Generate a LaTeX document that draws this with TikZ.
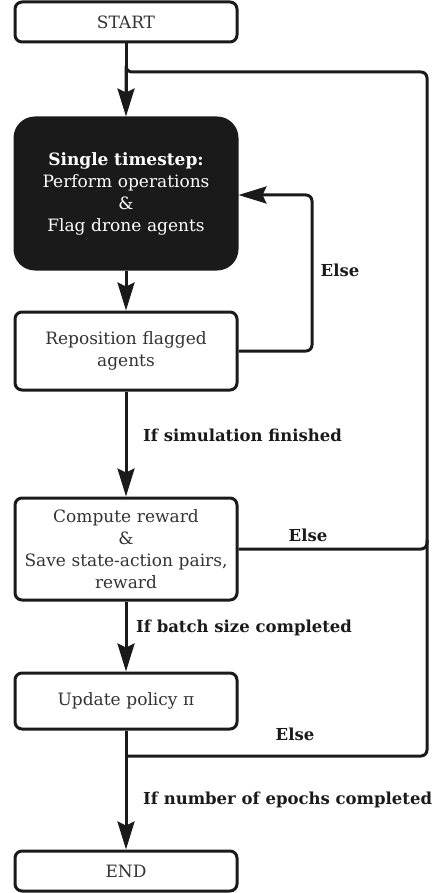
\documentclass[tikz,border=0pt]{standalone}
\usepackage{fontspec}
\setmainfont{DejaVu Serif}
\usetikzlibrary{arrows.meta}
\definecolor{boxtext}{HTML}{333333}
\definecolor{ink}{HTML}{1A1A1A}
\begin{document}
\begin{tikzpicture}[x=1pt,y=-1pt,
  box/.style={draw=ink, line width=3pt, rounded corners=7pt, fill=white,
    minimum width=222pt, text width=215pt, align=center, inner sep=0pt,
    text=boxtext, font=\fontsize{17}{22}\selectfont},
  darkbox/.style={box, fill=ink, rounded corners=20pt, text=white},
  flow/.style={draw=ink, line width=3pt, rounded corners=6pt},
  tip/.style={-{Stealth[length=28pt,width=17pt,inset=4pt]}},
  lbl/.style={text=ink, font=\bfseries\fontsize{16.5}{20}\selectfont, inner sep=0pt}]
\useasboundingbox (0,0) rectangle (442,893);

\node[box, minimum height=40pt] (start) at (126,22) {START};
\node[darkbox, minimum height=151pt] (step) at (126,193.5)
  {\textbf{Single timestep:}\\Perform operations\\\&\\Flag drone agents};
\node[box, minimum height=78pt] (repos) at (126,351)
  {Reposition flagged\\agents};
\node[box, minimum height=102pt] (reward) at (126,549)
  {Compute reward\\\&\\Save state-action pairs,\\reward};
\node[box, minimum height=56pt] (update) at (126,701) {Update policy π};
\node[box, minimum height=40pt] (end) at (126,871) {END};

\coordinate (top) at (126,72);
\coordinate (rc) at (427,72);
\coordinate (rb) at (427,756);
\coordinate (lb) at (126,756);
\coordinate (inner) at (312,195);

% main downward flow
\draw[flow, tip] (start.south) -- (step.north);
\draw[flow, tip] (step.south) -- (repos.north);
\draw[flow, tip] (repos.south) -- (reward.north);
\draw[flow, tip] (reward.south) -- (update.north);
\draw[flow, tip] (update.south) -- (end.north);

% inner loop: next timestep
\draw[flow, tip] (repos.east) -| (inner) -- (step.east |- inner);

% outer loops back to the timestep
\draw[flow] (reward.east) -| (rc) -| (top) -- (126,100);
\draw[flow] (lb) -- (rb) -- (427,540);

% condition labels
\node[lbl] (l1) at (340,270) {Else};
\node[lbl, anchor=west] (l2) at (143,435) {If simulation finished};
\node[lbl] (l3) at (308,535) {Else};
\node[lbl, anchor=west] (l4) at (136,628) {If batch size completed};
\node[lbl] (l5) at (295,734) {Else};
\node[lbl, anchor=west] (l6) at (143,800) {If number of epochs completed};
\end{tikzpicture}
\end{document}
